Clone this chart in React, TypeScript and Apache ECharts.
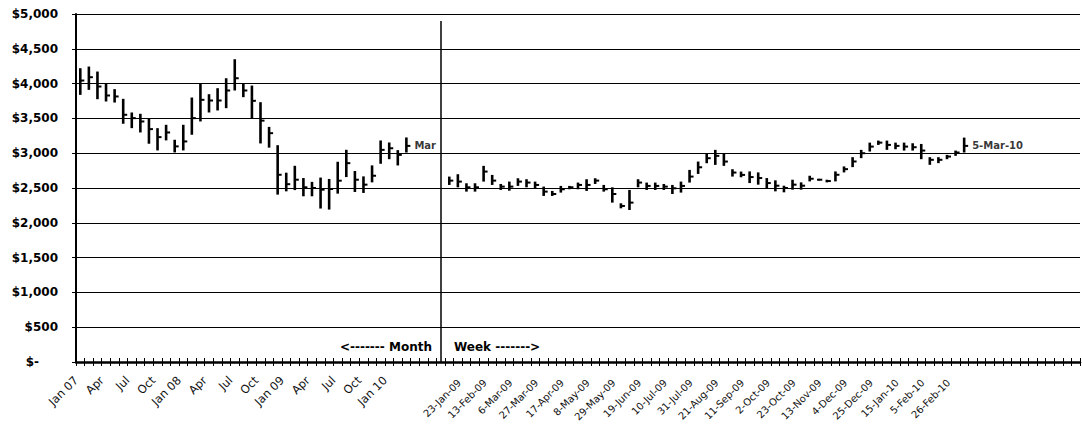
import React, { useEffect, useRef } from "react";
import * as echarts from "echarts";

// ---------- categories ----------
const monthLabels = [
  "Jan 07", "Feb", "Mar", "Apr", "May", "Jun", "Jul", "Aug", "Sep", "Oct", "Nov", "Dec",
  "Jan 08", "Feb", "Mar", "Apr", "May", "Jun", "Jul", "Aug", "Sep", "Oct", "Nov", "Dec",
  "Jan 09", "Feb", "Mar", "Apr", "May", "Jun", "Jul", "Aug", "Sep", "Oct", "Nov", "Dec",
  "Jan 10", "Feb", "Mar",
];
const gapLabels = ["", "", "", ""];
const weekLabels = [
  "9-Jan-09", "16-Jan-09", "23-Jan-09", "30-Jan-09", "6-Feb-09", "13-Feb-09", "20-Feb-09", "27-Feb-09",
  "6-Mar-09", "13-Mar-09", "20-Mar-09", "27-Mar-09", "3-Apr-09", "10-Apr-09", "17-Apr-09", "24-Apr-09",
  "1-May-09", "8-May-09", "15-May-09", "22-May-09", "29-May-09", "5-Jun-09", "12-Jun-09", "19-Jun-09",
  "26-Jun-09", "3-Jul-09", "10-Jul-09", "17-Jul-09", "24-Jul-09", "31-Jul-09", "7-Aug-09", "14-Aug-09",
  "21-Aug-09", "28-Aug-09", "4-Sep-09", "11-Sep-09", "18-Sep-09", "25-Sep-09", "2-Oct-09", "9-Oct-09",
  "16-Oct-09", "23-Oct-09", "30-Oct-09", "6-Nov-09", "13-Nov-09", "20-Nov-09", "27-Nov-09", "4-Dec-09",
  "11-Dec-09", "18-Dec-09", "25-Dec-09", "1-Jan-10", "8-Jan-10", "15-Jan-10", "22-Jan-10", "29-Jan-10",
  "5-Feb-10", "12-Feb-10", "19-Feb-10", "26-Feb-10", "5-Mar-10",
];
const tailLabels = ["", "", "", "", "", "", "", "", "", "", "", "", ""];

// ---------- monthly high / low / close ----------
const monthHigh = [
  4221, 4245, 4173, 3996, 3920, 3781, 3585, 3566, 3504, 3360, 3408, 3193,
  3408, 3800, 4006, 3848, 3934, 4077, 4350, 4006, 3972, 3733, 3378, 3115,
  2720, 2819, 2643, 2588, 2650, 2630, 2877, 3049, 2744, 2667, 2825, 3183,
  3154, 3044, 3226,
];
const monthLow = [
  3838, 3910, 3776, 3743, 3728, 3423, 3360, 3298, 3136, 3040, 3184, 3011,
  3040, 3265, 3456, 3585, 3614, 3647, 3901, 3805, 3504, 3140, 3080, 2405,
  2452, 2470, 2381, 2381, 2205, 2190, 2419, 2657, 2443, 2429, 2581, 2848,
  2914, 2824, 3010,
];
const monthClose = [
  4044, 4092, 3958, 3829, 3815, 3552, 3504, 3456, 3346, 3231, 3298, 3098,
  3169, 3504, 3767, 3757, 3757, 3901, 4077, 3901, 3752, 3468, 3288, 2690,
  2555, 2619, 2510, 2500, 2476, 2486, 2605, 2857, 2619, 2548, 2676, 3048,
  3071, 2976, 3105,
];

// ---------- weekly high / low / close ----------
const weekHigh = [
  2664, 2698, 2568, 2568, 2818, 2688, 2558, 2592, 2640, 2626, 2592, 2520,
  2458, 2530, 2530, 2578, 2626, 2640, 2544, 2510, 2280, 2472, 2626, 2578,
  2578, 2558, 2544, 2592, 2760, 2880, 3000, 3048, 3000, 2770, 2736, 2738,
  2724, 2643, 2610, 2533, 2619, 2581, 2676, 2633, 2619, 2738, 2810, 2943,
  3048, 3152, 3181, 3181, 3152, 3152, 3143, 3133, 2943, 2943, 2976, 3038,
  3224,
];
const weekLow = [
  2544, 2510, 2448, 2448, 2592, 2544, 2472, 2462, 2530, 2510, 2496, 2386,
  2386, 2434, 2482, 2482, 2458, 2558, 2448, 2290, 2208, 2184, 2510, 2472,
  2472, 2472, 2414, 2434, 2578, 2702, 2856, 2832, 2818, 2664, 2654, 2571,
  2548, 2500, 2452, 2438, 2476, 2476, 2595, 2605, 2581, 2595, 2724, 2800,
  2929, 3024, 3119, 3048, 3057, 3038, 3038, 2914, 2833, 2857, 2914, 2962,
  3010,
];
const weekClose = [
  2606, 2592, 2510, 2510, 2736, 2606, 2520, 2520, 2592, 2578, 2544, 2448,
  2414, 2482, 2510, 2544, 2544, 2606, 2482, 2414, 2242, 2290, 2578, 2530,
  2530, 2520, 2496, 2530, 2664, 2798, 2928, 2962, 2880, 2722, 2688, 2657,
  2643, 2571, 2533, 2500, 2548, 2533, 2633, 2619, 2600, 2690, 2771, 2881,
  3000, 3095, 3152, 3119, 3105, 3095, 3086, 3038, 2905, 2905, 2952, 3010,
  3105,
];

// divider between the monthly and the weekly part
const dividerTop = 4900;

// value axis
const yMin = 0;
const yMax = 5000;
const yStep = 500;

const FONT = "DejaVu Sans, Verdana, sans-serif";

export default function App() {
  const ref = useRef<HTMLDivElement>(null);

  useEffect(() => {
    if (!ref.current) return;
    const chart = echarts.init(ref.current, undefined, { renderer: "svg" });

    const categories = [...monthLabels, ...gapLabels, ...weekLabels, ...tailLabels];
    const nMonths = monthLabels.length;
    const weekStart = nMonths + gapLabels.length;
    const dividerIndex = weekStart - 1;

    const hlc: number[][] = [];
    monthHigh.forEach((h, i) => hlc.push([i, h, monthLow[i], monthClose[i]]));
    weekHigh.forEach((h, i) => hlc.push([weekStart + i, h, weekLow[i], weekClose[i]]));

    const lastMonth = nMonths - 1;
    const lastWeek = weekStart + weekLabels.length - 1;

    const showMonth = (i: number, v: string) => i < nMonths && i % 3 === 0 && v !== "";
    const showWeek = (i: number, v: string) => i >= weekStart && i % 3 === 0 && v !== "";

    chart.setOption({
      animation: false,
      backgroundColor: "#fff",
      grid: { left: 76, right: 2, top: 14, bottom: 65, containLabel: false },
      xAxis: [
        {
          type: "category",
          data: categories,
          boundaryGap: true,
          axisLine: { show: true, lineStyle: { color: "#000", width: 2.5 } },
          axisTick: { show: true, interval: 0, length: 4, lineStyle: { color: "#000", width: 1 } },
          axisLabel: {
            interval: showMonth,
            rotate: 45,
            margin: 12,
            color: "#000",
            formatter: (v: string) => "{m|" + v + "}",
            rich: {
              m: { fontFamily: FONT, fontSize: 11.5, color: "#111", padding: [0, 6, 0, 0] },
            },
          },
          splitLine: { show: false },
        },
        {
          type: "category",
          data: categories,
          boundaryGap: true,
          position: "bottom",
          axisLine: { show: false },
          axisTick: { show: true, inside: true, interval: 0, length: 4, lineStyle: { color: "#000", width: 1 } },
          axisLabel: {
            interval: showWeek,
            rotate: 45,
            margin: 12,
            color: "#000",
            formatter: (v: string) => "{w|" + v + "}",
            rich: {
              w: { fontFamily: FONT, fontSize: 10, color: "#111", padding: [0, 10, 0, 0] },
            },
          },
          splitLine: { show: false },
        },
      ],
      yAxis: {
        type: "value",
        min: yMin,
        max: yMax,
        interval: yStep,
        axisLine: { show: true, lineStyle: { color: "#000", width: 2 } },
        axisTick: { show: true, length: 4, lineStyle: { color: "#000", width: 1 } },
        axisLabel: {
          margin: 18,
          fontFamily: FONT,
          fontSize: 12,
          fontWeight: "bold",
          color: "#000",
          formatter: (v: number) =>
            v === 0 ? "{z|$-}" : "$" + v.toLocaleString("en-US"),
          rich: {
            z: { fontFamily: FONT, fontSize: 12, fontWeight: "bold", color: "#000", padding: [0, 19, 0, 0] },
          },
        },
        splitLine: { show: true, lineStyle: { color: "#000", width: 1 } },
      },
      series: [
        {
          type: "custom",
          name: "HLC",
          xAxisIndex: 0,
          data: hlc,
          encode: { x: 0, y: [1, 2, 3] },
          renderItem: (params: any, api: any) => {
            const x = api.value(0);
            const top = api.coord([x, api.value(1)]);
            const bot = api.coord([x, api.value(2)]);
            const cl = api.coord([x, api.value(3)]);
            return {
              type: "group",
              children: [
                {
                  type: "line",
                  shape: { x1: top[0], y1: top[1], x2: bot[0], y2: bot[1] },
                  style: { stroke: "#000", lineWidth: 2.6 },
                },
                {
                  type: "line",
                  shape: { x1: cl[0], y1: cl[1], x2: cl[0] + 4, y2: cl[1] },
                  style: { stroke: "#000", lineWidth: 2 },
                },
              ],
            };
          },
          markLine: {
            silent: true,
            symbol: "none",
            label: { show: false },
            lineStyle: { color: "#000", width: 1.5, type: "solid" },
            data: [[{ coord: [dividerIndex, 0] }, { coord: [dividerIndex, dividerTop] }]],
          },
        },
        {
          type: "scatter",
          symbolSize: 0,
          silent: true,
          data: [
            { name: "Mar", value: [lastMonth, monthClose[lastMonth]] },
            { name: "5-Mar-10", value: [lastWeek, weekClose[weekClose.length - 1]] },
          ],
          label: {
            show: true,
            position: "right",
            distance: 8,
            formatter: "{b}",
            fontFamily: FONT,
            fontSize: 10,
            fontWeight: "bold",
            color: "#000",
          },
        },
      ],
      graphic: [
        {
          type: "text",
          right: 1082 - 432,
          top: 341,
          style: {
            text: "<------- Month",
            fontFamily: FONT,
            fontSize: 12,
            fontWeight: "bold",
            fill: "#000",
          },
        },
        {
          type: "text",
          left: 454,
          top: 341,
          style: {
            text: "Week ------->",
            fontFamily: FONT,
            fontSize: 12,
            fontWeight: "bold",
            fill: "#000",
          },
        },
      ],
    });

    return () => chart.dispose();
  }, []);

  return (
    <div
      ref={ref}
      style={{ position: "fixed", left: 0, top: 0, width: 1082, height: 427, background: "#fff" }}
    />
  );
}
